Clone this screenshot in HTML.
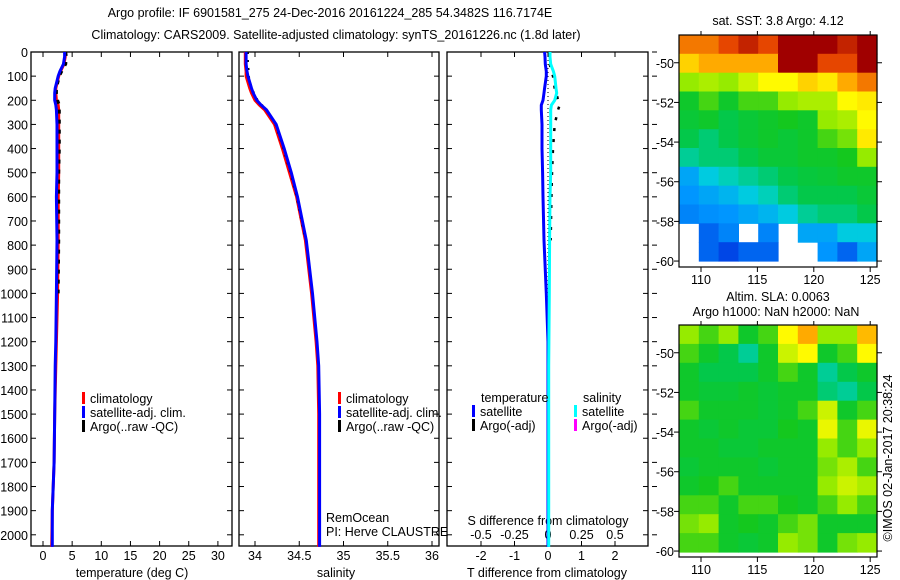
<!DOCTYPE html>
<html><head><meta charset="utf-8"><style>
body{margin:0;background:#fff;}
svg{display:block;font-family:"Liberation Sans",sans-serif;font-size:12.5px;}
</style></head><body>
<svg id="c" width="900" height="580" viewBox="0 0 900 580">
<text x="330" y="17" text-anchor="middle">Argo profile: IF 6901581_275 24-Dec-2016 20161224_285 54.3482S 116.7174E</text>
<text x="336" y="39" text-anchor="middle">Climatology: CARS2009. Satellite-adjusted climatology: synTS_20161226.nc (1.8d later)</text>
<g id="g"></g>
</svg>
<script>
// ---- data ----
const depthTicks=[0,100,200,300,400,500,600,700,800,900,1000,1100,1200,1300,1400,1500,1600,1700,1800,1900,2000];
const tempTicks=[0,5,10,15,20,25,30];
const salTicks=[34,34.5,35,35.5,36];
const salTickLabels=["34","34.5","35","35.5","36"];
const tdTicks=[-2,-1,0,1,2];
const sdTicks=[-0.5,-0.25,0,0.25,0.5];
const sdTickLabels=["-0.5","-0.25","0","0.25","0.5"];
const profDepth=[0,20,50,80,100,150,170,200,220,240,300,400,500,600,780,1000,1200,1300,1500,1700,1900,2050];
const tempSat =[3.7,3.7,3.5,2.9,2.6,2.1,2.0,2.0,2.2,2.3,2.4,2.4,2.4,2.3,2.4,2.3,2.2,2.1,2.0,1.9,1.6,1.6];
const tempClim=[3.8,3.8,3.6,3.0,2.7,2.2,2.2,2.3,2.6,2.7,2.7,2.7,2.7,2.6,2.6,2.5,2.3,2.2,2.0,1.9,1.6,1.5];
const tempArgo=[3.9,4.0,3.9,3.2,2.8,2.3,2.3,2.5,2.8,2.8,2.8,2.8,2.7,2.7,2.7,2.6,null,null,null,null,null,null];
const salSat =[33.9,33.9,33.9,33.91,33.92,33.96,33.98,34.02,34.07,34.13,34.24,34.33,34.41,34.48,34.58,34.65,34.7,34.72,34.73,34.73,34.73,34.73];
const salClim=[33.89,33.89,33.89,33.9,33.9,33.94,33.96,34.0,34.05,34.11,34.22,34.31,34.39,34.47,34.57,34.64,34.69,34.71,34.72,34.72,34.72,34.72];
const salArgo=[33.92,33.92,33.92,33.93,33.93,33.96,33.99,34.03,34.08,34.13,34.23,34.32,34.4,34.47,34.57,null,null,null,null,null,null,null];
const tDiff=[-0.1,-0.09,-0.08,-0.05,-0.05,-0.1,-0.12,-0.15,-0.2,-0.2,-0.18,-0.18,-0.16,-0.15,-0.12,-0.05,0,0,0,0,0,0];
const sDiff=[0.015,0.015,0.02,0.04,0.05,0.06,0.065,0.05,0.025,0.02,0.02,0.02,0.02,0.015,0.012,0.01,0.007,0.005,0.005,0.005,0.005,0.005];
const tDiffArgo=[null,null,0.05,0.1,0.15,0.2,0.25,0.3,0.35,0.3,0.2,0.15,0.12,0.1,0.08,null,null,null,null,null,null,null];
const sstLatTicks=[-50,-52,-54,-56,-58,-60];
const lonTicks=[110,115,120,125];
const sstGrid=[
[.85,.85,.9,.95,.9,1,1,1,.95,1],
[.75,.8,.8,.8,.8,1,1,.9,.9,1],
[.6,.62,.6,.65,.7,.7,.75,.72,.8,.85],
[.5,.55,.5,.55,.55,.6,.62,.62,.7,.72],
[.48,.5,.45,.48,.5,.52,.5,.6,.62,.7],
[.45,.42,.45,.48,.5,.48,.5,.55,.58,.72],
[.4,.42,.42,.45,.48,.48,.5,.5,.52,.6],
[.3,.35,.38,.4,.42,.45,.47,.48,.5,.5],
[.28,.3,.32,.35,.38,.42,.45,.45,.45,.48],
[.25,.27,.28,.3,.32,.35,.4,.42,.42,.45],
[null,.2,.25,null,.25,null,.3,.3,.35,.35],
[null,.2,.15,.2,.2,null,null,.28,.2,.3]];
const slaGrid=[
[.6,.55,.6,.5,.55,.7,.8,.6,.6,.78],
[.55,.5,.45,.4,.5,.65,.7,.5,.55,.7],
[.5,.45,.45,.45,.5,.55,.5,.4,.45,.5],
[.5,.48,.48,.5,.48,.5,.5,.42,.4,.45],
[.55,.5,.5,.5,.48,.5,.55,.65,.5,.55],
[.5,.48,.5,.48,.48,.52,.5,.68,.55,.68],
[.5,.5,.48,.48,.5,.5,.5,.6,.55,.6],
[.48,.5,.5,.5,.48,.5,.5,.58,.62,.55],
[.5,.52,.55,.5,.5,.5,.5,.6,.65,.62],
[.55,.55,.5,.55,.55,.52,.5,.55,.6,.55],
[.58,.6,.5,.52,.5,.55,.58,.5,.5,.5],
[.55,.55,.5,.48,.5,.6,.58,.5,.58,.6]];

const NS="http://www.w3.org/2000/svg";
const G=document.getElementById('g');
function mk(t,a,p){const e=document.createElementNS(NS,t);for(const k in a)e.setAttribute(k,a[k]);(p||G).appendChild(e);return e;}
function txt(x,y,s,anchor){const e=mk('text',{x:x,y:y,'text-anchor':anchor||'middle'});e.textContent=s;return e;}
const yD=d=>52+d*0.2414;
const xT=v=>43+v*5.83;
const xS=v=>255+(v-34)*88.5;
const xTD=v=>548+v*33.5;
const xSD=v=>548+v*134;
const panels=[[31,232],[239,439],[447,648]];
const BOT=546;
panels.forEach((p,i)=>{
 const r=mk('rect',{x:p[0],y:52,width:p[1]-p[0],height:BOT-52,fill:'none',stroke:'#000','stroke-width':1.3});
 
 
 depthTicks.forEach(d=>{
  mk('line',{x1:p[0],x2:p[0]+5,y1:yD(d),y2:yD(d),stroke:'#000'});
  mk('line',{x1:p[1],x2:p[1]-5,y1:yD(d),y2:yD(d),stroke:'#000'});
 });
});
depthTicks.forEach(d=>{const t=txt(28,yD(d)+5,String(d),'end');
 
 });
depthTicks.forEach(d=>mk('line',{x1:652,x2:657,y1:yD(d),y2:yD(d),stroke:'#000'}));
function xticks(vals,labs,f,ly,top){vals.forEach((v,i)=>{
 mk('line',{x1:f(v),x2:f(v),y1:BOT,y2:BOT-5,stroke:'#000'});
 if(top)mk('line',{x1:f(v),x2:f(v),y1:52,y2:57,stroke:'#000'});
 const t=txt(f(v),ly,labs[i]);
 
 });}
xticks(tempTicks,tempTicks.map(String),xT,560,true);
xticks(salTicks,salTickLabels,xS,560,true);
xticks(tdTicks,tdTicks.map(String),xTD,560,true);
sdTicks.forEach((v,i)=>{const t=txt(xSD(v),539,sdTickLabels[i]);
 
 });
let t;
t=txt(132,577,'temperature (deg C)');
t=txt(336,577,'salinity');
t=txt(547,577,'T difference from climatology');
t=txt(548,525,'S difference from climatology');
mk('line',{x1:xTD(0),x2:xTD(0),y1:52,y2:BOT,stroke:'#000','stroke-dasharray':'1,3'});
function line(xs,f,col,w,name,dash){let d='';let pen=false;
 profDepth.forEach((dp,i)=>{const v=xs[i];if(v==null){pen=false;return;}
  d+=(pen?'L':'M')+f(v).toFixed(1)+','+yD(dp).toFixed(1);pen=true;});
 const a={d:d,fill:'none',stroke:col,'stroke-width':w};if(dash)a['stroke-dasharray']=dash;
 const e=mk('path',a);
 
 }
line(tempClim,xT,'#f00',3,'temp-climatology-line');
line(tempArgo,xT,'#000',3,'temp-argo-line','4,6');
line(tempSat,xT,'#00f',3,'temp-satellite-line');
line(salClim,xS,'#f00',3,'sal-climatology-line');
line(salArgo,xS,'#000',2,'sal-argo-line','2,6');
line(salSat,xS,'#00f',3,'sal-satellite-line');
line(tDiffArgo,xTD,'#000',2.5,'tdiff-argo-line','3,8');
line(tDiff,xTD,'#00f',3,'tdiff-satellite-line');
line(sDiff,xSD,'#0ff',3,'sdiff-satellite-line');
function leg(x,y,col,s,name){mk('rect',{x:x,y:y-11,width:3,height:12,fill:col});
 const e=txt(x+8,y,s,'start');
 
 }
[[82],[338]].forEach((p,i)=>{leg(p[0],403,'#f00','climatology','legend-climatology');
 leg(p[0],417,'#00f','satellite-adj. clim.','legend-satellite-adj');
 leg(p[0],431,'#000','Argo(..raw -QC)','legend-argo');});
t=txt(481,402,'temperature','start');
t=txt(583,402,'salinity','start');
leg(472,416,'#00f','satellite','legend-t-satellite');
leg(472,430,'#000','Argo(-adj)','legend-t-argo');
leg(574,416,'#0ff','satellite','legend-s-satellite');
leg(574,430,'#f0f','Argo(-adj)','legend-s-argo');
t=txt(326,522,'RemOcean','start');
t=txt(326,536,'PI: Herve CLAUSTRE','start');
// colormap (approximate reference palette)
const cmStops=[[0,[0,0,140]],[0.15,[0,70,230]],[0.28,[0,150,255]],[0.36,[0,210,220]],[0.44,[0,200,80]],[0.52,[20,200,30]],[0.6,[150,235,0]],[0.7,[255,250,0]],[0.8,[255,170,0]],[0.9,[230,70,0]],[1,[160,0,0]]];
function cmap(v){for(let i=1;i<cmStops.length;i++){if(v<=cmStops[i][0]){const a=cmStops[i-1],b=cmStops[i];const f=(v-a[0])/(b[0]-a[0]);
 return 'rgb('+a[1].map((c,k)=>Math.round(c+(b[1][k]-c)*f)).join(',')+')';}}return 'rgb(160,0,0)';}
const lonX=l=>679+(l-108.05)*11.28;
function map(grid,top,bot,latTop,latBot,name,lat60y){
 const latY=l=>top+(latTop-l)/(latTop-latBot)*(bot-top);
 const ny=grid.length,nx=grid[0].length;
 const dataBot=lat60y;
 grid.forEach((row,r)=>row.forEach((v,c)=>{
  if(v==null)return;
  const x0=679+c*(198/nx),y0=top+r*((dataBot-top)/ny);
  const e=mk('rect',{x:x0.toFixed(1),y:y0.toFixed(1),width:(198/nx+0.6).toFixed(1),height:((dataBot-top)/ny+0.6).toFixed(1),fill:cmap(v)});
  
  }));
 const f=mk('rect',{x:679,y:top,width:198,height:bot-top,fill:'none',stroke:'#000','stroke-width':1.2});
 
 
 sstLatTicks.forEach(l=>{const y=latY(l);
  mk('line',{x1:679,x2:674,y1:y,y2:y,stroke:'#000'});mk('line',{x1:877,x2:882,y1:y,y2:y,stroke:'#000'});
  const e=txt(674,y+5,String(l),'end');
  
  });
 lonTicks.forEach(l=>{const x=lonX(l);
  mk('line',{x1:x,x2:x,y1:bot,y2:bot+5,stroke:'#000'});mk('line',{x1:x,x2:x,y1:top,y2:top-4,stroke:'#000'});
  const e=txt(x,bot+17,String(l));
  
  });
}
map(sstGrid,35,267,-48.6,-60.3,'sst-map',261);
map(slaGrid,325,557,-48.6,-60.3,'sla-map',552);
t=txt(778,25,'sat. SST: 3.8 Argo: 4.12');
t=txt(778,301,'Altim. SLA: 0.0063');
t=txt(776,316,'Argo h1000: NaN h2000: NaN');
t=txt(0,0,'©IMOS 02-Jan-2017 20:38:24');t.setAttribute('transform','translate(892,458) rotate(-90)');

</script>
</body></html>
